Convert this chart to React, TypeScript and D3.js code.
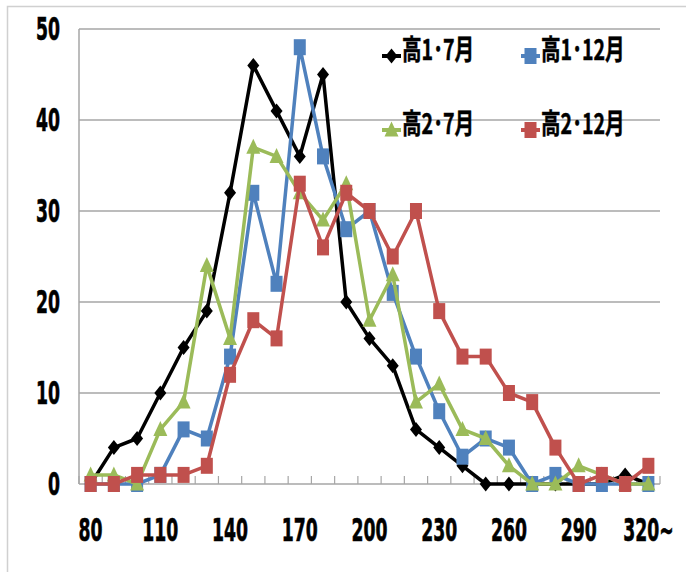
import React, { useEffect, useRef } from 'react';
import * as d3 from 'd3';

const categories = ['80', '90', '100', '110', '120', '130', '140', '150', '160', '170', '180', '190', '200', '210', '220', '230', '240', '250', '260', '270', '280', '290', '300', '310', '320'];
const xTickLabels = ['80', '110', '140', '170', '200', '230', '260', '290', '320~'];
const xTickCategories = ['80', '110', '140', '170', '200', '230', '260', '290', '320'];
const yTicks = [0, 10, 20, 30, 40, 50];

const h1July = [0, 4, 5, 10, 15, 19, 32, 46, 41, 36, 45, 20, 16, 13, 6, 4, 2, 0, 0, 0, 0, 0, 0, 1, 0];
const h1Dec = [0, 0, 0, 1, 6, 5, 14, 32, 22, 48, 36, 28, 30, 21, 14, 8, 3, 5, 4, 0, 1, 0, 0, 0, 0];
const h2July = [1, 1, 0, 6, 9, 24, 16, 37, 36, 32, 29, 33, 18, 23, 9, 11, 6, 5, 2, 0, 0, 2, 1, 0, 0];
const h2Dec = [0, 0, 1, 1, 1, 2, 12, 18, 16, 33, 26, 32, 30, 25, 30, 19, 14, 14, 10, 9, 4, 0, 1, 0, 2];

const seriesNames = ['高1･7月', '高1･12月', '高2･7月', '高2･12月'];

const App = () => {
  const svgRef = useRef(null);

  useEffect(() => {
    const width = 686;
    const height = 572;
    const left = 79;
    const right = 660;
    const top = 29;
    const bottom = 484;

    const series = [
      { name: seriesNames[0], values: h1July, color: '#000000', marker: 'diamond' },
      { name: seriesNames[1], values: h1Dec, color: '#4F81BD', marker: 'square' },
      { name: seriesNames[2], values: h2July, color: '#9BBB59', marker: 'triangle' },
      { name: seriesNames[3], values: h2Dec, color: '#C0504D', marker: 'square' },
    ];

    const svg = d3.select(svgRef.current)
      .attr('width', width)
      .attr('height', height);
    svg.selectAll('*').remove();

    svg.append('rect').attr('width', width).attr('height', height).attr('fill', '#fff');

    // outer chart border (only top/left visible)
    svg.append('path')
      .attr('d', `M7.5,${height} V6.5 H${width}`)
      .attr('fill', 'none')
      .attr('stroke', '#D0D0D0')
      .attr('stroke-width', 1.5);

    const x = d3.scaleBand().domain(categories).range([left, right]).padding(0);
    const cx = (c) => x(c) + x.bandwidth() / 2;
    const y = d3.scaleLinear().domain([0, 50]).range([bottom, top]);

    // gridlines
    svg.append('g')
      .selectAll('line')
      .data(yTicks.filter(d => d > 0))
      .join('line')
      .attr('x1', left)
      .attr('x2', right)
      .attr('y1', d => y(d))
      .attr('y2', d => y(d))
      .attr('stroke', '#A6A6A6')
      .attr('stroke-width', 1.5);

    // axes lines
    svg.append('line')
      .attr('x1', left).attr('x2', left)
      .attr('y1', top).attr('y2', bottom)
      .attr('stroke', '#A6A6A6').attr('stroke-width', 1.5);
    svg.append('line')
      .attr('x1', left).attr('x2', right)
      .attr('y1', bottom).attr('y2', bottom)
      .attr('stroke', '#A6A6A6').attr('stroke-width', 1.5);

    // x ticks at band boundaries
    const bounds = categories.map(c => x(c)).concat([right]);
    svg.append('g')
      .selectAll('line')
      .data(bounds)
      .join('line')
      .attr('x1', d => d).attr('x2', d => d)
      .attr('y1', bottom).attr('y2', bottom - 8)
      .attr('stroke', '#A6A6A6').attr('stroke-width', 1.2);

    const tickFont = '"Liberation Sans Narrow", "DejaVu Sans Condensed", "Liberation Sans", sans-serif';

    // y labels
    svg.append('g')
      .selectAll('text')
      .data(yTicks)
      .join('text')
      .attr('transform', d => `translate(60,${y(d) + 11}) scale(0.6,1)`)
      .attr('text-anchor', 'end')
      .attr('font-family', tickFont)
      .attr('font-weight', 'bold')
      .attr('font-size', 32)
      .attr('stroke', '#000')
      .attr('stroke-width', 0.6)
      .text(d => d);

    // x labels
    svg.append('g')
      .selectAll('text')
      .data(xTickLabels)
      .join('text')
      .attr('transform', (d, i) => `translate(${cx(xTickCategories[i])},541) scale(0.6,1)`)
      .attr('text-anchor', 'middle')
      .attr('font-family', tickFont)
      .attr('font-weight', 'bold')
      .attr('font-size', 32)
      .attr('stroke', '#000')
      .attr('stroke-width', 0.6)
      .text(d => d);

    const drawMarker = (g, marker, color, px, py) => {
      if (marker === 'diamond') {
        g.append('path')
          .attr('d', `M${px},${py - 7.5} L${px + 6},${py} L${px},${py + 7.5} L${px - 6},${py} Z`)
          .attr('fill', color);
      } else if (marker === 'square') {
        g.append('rect')
          .attr('x', px - 6).attr('y', py - 8)
          .attr('width', 12).attr('height', 16)
          .attr('fill', color);
      } else {
        g.append('path')
          .attr('d', `M${px},${py - 8.5} L${px + 7},${py + 6.5} L${px - 7},${py + 6.5} Z`)
          .attr('fill', color);
      }
    };

    const line = d3.line()
      .x((d, i) => cx(categories[i]))
      .y(d => y(d));

    series.forEach(s => {
      const g = svg.append('g');
      g.append('path')
        .datum(s.values)
        .attr('d', line)
        .attr('fill', 'none')
        .attr('stroke', s.color)
        .attr('stroke-width', 3.5)
        .attr('stroke-linejoin', 'round');
      s.values.forEach((v, i) => drawMarker(g, s.marker, s.color, cx(categories[i]), y(v)));
    });

    // legend 2x2
    const legendCols = [382, 521];
    const legendRows = [56, 130];
    series.forEach((s, i) => {
      const lx = legendCols[i % 2];
      const ly = legendRows[Math.floor(i / 2)];
      const g = svg.append('g');
      g.append('line')
        .attr('x1', lx).attr('x2', lx + 19)
        .attr('y1', ly).attr('y2', ly)
        .attr('stroke', s.color).attr('stroke-width', 4);
      drawMarker(g, s.marker, s.color, lx + 9.5, ly);
      g.append('text')
        .attr('transform', `translate(${lx + 20},${ly + 4}) scale(0.7,1)`)
        .attr('font-family', '"Noto Sans CJK JP", sans-serif')
        .attr('font-weight', 'bold')
        .attr('font-size', 28)
        .attr('fill', '#000')
        .attr('stroke', '#000')
        .attr('stroke-width', 0.5)
        .text(s.name);
    });
  }, []);

  return (
    <svg ref={svgRef} style={{ position: 'absolute', left: 0, top: 0, display: 'block' }}></svg>
  );
};

export default App;
